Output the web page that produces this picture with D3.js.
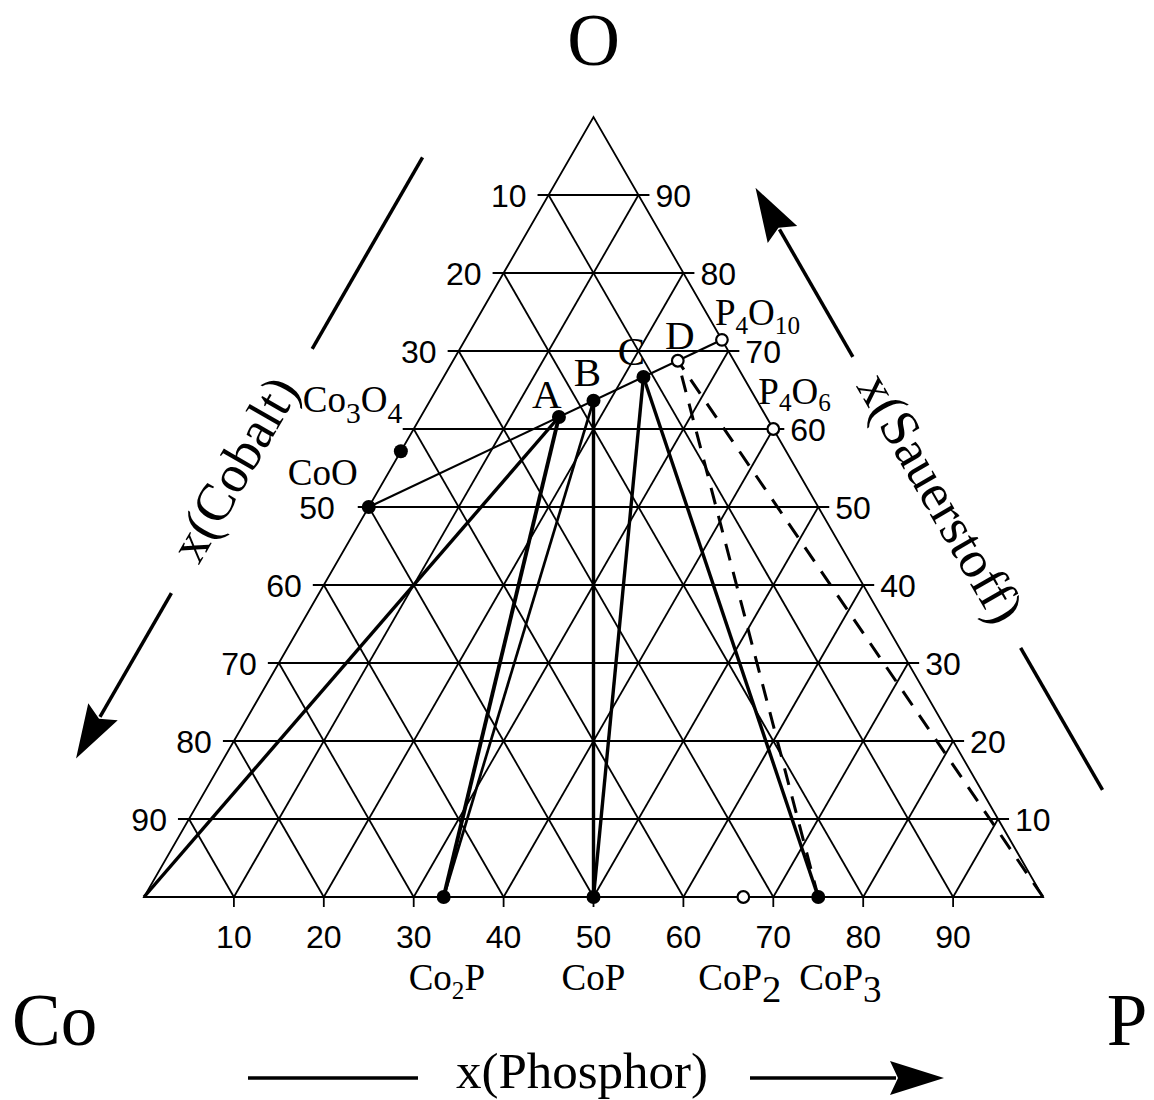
<!DOCTYPE html>
<html>
<head>
<meta charset="utf-8">
<script src="https://cdn.jsdelivr.net/npm/d3@7"></script>
<style>
  html, body { margin: 0; padding: 0; background: #fff; }
  svg { display: block; }
</style>
</head>
<body>
<svg id="chart" width="1154" height="1100"></svg>
<script>
// Ternary phase diagram Co – P – O (mole fractions in %)

// Grid / tick values
const gridTicks        = [10, 20, 30, 40, 50, 60, 70, 80, 90];
const leftTickValues   = [10, 20, 30, 50, 60, 70, 80, 90];      // x(Cobalt) along Co–O edge
const rightTickValues  = [10, 20, 30, 40, 50, 60, 70, 80, 90];  // x(Sauerstoff) along P–O edge
const bottomTickValues = [10, 20, 30, 40, 50, 60, 70, 80, 90];  // x(Phosphor) along Co–P edge

// Phases, given as atom counts Co : P : O
const phaseIds    = ["CoO", "Co3O4", "A", "B", "C", "D", "P4O10", "P4O6", "Co2P", "CoP", "CoP2", "CoP3"];
const phaseLabels = ["CoO", "Co{3}O{4}", "A", "B", "C", "D", "P{4}O{10}", "P{4}O{6}", "Co{2}P", "CoP", "CoP{2}", "CoP{3}"];
const atomsCo     = [1, 3, 3, 2, 1, 1,  0,  0, 2, 1, 1, 1];
const atomsP      = [0, 0, 2, 2, 2, 4,  4,  4, 1, 1, 2, 3];
const atomsO      = [1, 4, 8, 7, 6, 11, 10, 6, 0, 0, 0, 0];
const openMarker  = [false, false, false, false, false, true, true, true, false, false, true, false];

// Pure elements at the corners
const cornerIds = ["Co", "P", "O"];
const cornerP   = [0, 1, 0];
const cornerO   = [0, 0, 1];

// Connecting lines
const joinLine    = ["CoO", "P4O10"];   // CoO – P4O10 section through A, B, C, D
const tieLines    = [["Co", "A"], ["Co2P", "A"], ["Co2P", "B"], ["CoP", "B"], ["CoP", "C"], ["CoP3", "C"]];
const dashedLines = [["CoP3", "D"], ["P", "D"]];

// Axis titles
const axisTitles = ["x(Cobalt)", "x(Sauerstoff)", "x(Phosphor)"];

// ---------------------------------------------------------------
const svg = d3.select("#chart");
const SERIF = "'Liberation Serif', 'Times New Roman', serif";
const SANS  = "'Liberation Sans', Arial, sans-serif";

// Cartesian projection: horizontal = P + O/2, vertical = O
const x = d3.scaleLinear().domain([0, 1]).range([144, 1043]);
const y = d3.scaleLinear().domain([0, 1]).range([897, 117]);
const pt = (p, o) => [x(p + o / 2), y(o)];

const comp = new Map();
phaseIds.forEach((id, i) => {
  const n = atomsCo[i] + atomsP[i] + atomsO[i];
  comp.set(id, { id, p: atomsP[i] / n, o: atomsO[i] / n, open: openMarker[i], label: phaseLabels[i] });
});
cornerIds.forEach((id, i) => comp.set(id, { id, p: cornerP[i], o: cornerO[i] }));
const at = id => { const c = comp.get(id); return pt(c.p, c.o); };

// ---------------- grid ----------------
const grid = svg.append("g").attr("stroke", "#000").attr("stroke-width", 1.8).attr("fill", "none");
const ext = 11;
const gridSegs = [];
gridTicks.forEach(v => {
  const t = v / 100;
  const l = pt(0, t), r = pt(1 - t, t);
  gridSegs.push([[l[0] - ext, l[1]], [r[0] + ext, r[1]]]);   // constant O
  gridSegs.push([pt(t, 0), pt(t, 1 - t)]);                    // constant P
  gridSegs.push([pt(1 - t, 0), pt(0, 1 - t)]);                // constant Co
  gridSegs.push([[x(t), y(0)], [x(t), y(0) + 10]]);           // tick below base
});
grid.selectAll("line").data(gridSegs).join("line")
  .attr("x1", d => d[0][0]).attr("y1", d => d[0][1])
  .attr("x2", d => d[1][0]).attr("y2", d => d[1][1]);
grid.append("path")
  .attr("d", d3.line()([at("Co"), at("P"), at("O")]) + "Z");

// ---------------- tick labels ----------------
const ticks = svg.append("g").attr("font-family", SANS).attr("font-size", 32).attr("fill", "#000");
ticks.selectAll("text.b").data(bottomTickValues).join("text").attr("class", "b")
  .attr("x", v => x(v / 100)).attr("y", y(0) + 51)
  .attr("text-anchor", "middle").text(v => v);
ticks.selectAll("text.l").data(leftTickValues).join("text").attr("class", "l")
  .attr("x", v => pt(0, 1 - v / 100)[0] - (v === 50 ? 34 : 22))
  .attr("y", v => y(1 - v / 100) + 11.5)
  .attr("text-anchor", "end").text(v => v);
ticks.selectAll("text.r").data(rightTickValues).join("text").attr("class", "r")
  .attr("x", v => pt(1 - v / 100, v / 100)[0] + 17)
  .attr("y", v => y(v / 100) + 11.5)
  .attr("text-anchor", "start").text(v => v);

// ---------------- lines ----------------
const lines = svg.append("g").attr("stroke", "#000").attr("fill", "none").attr("stroke-linecap", "butt");
lines.append("line")
  .attr("x1", at(joinLine[0])[0]).attr("y1", at(joinLine[0])[1])
  .attr("x2", at(joinLine[1])[0]).attr("y2", at(joinLine[1])[1])
  .attr("stroke-width", 2.2);
const tieWidth = d => (d[0] === "Co2P" && d[1] === "B") ? 2.7 : (d[0] === "Co2P" ? 3.9 : 3.4);
lines.selectAll("line.tie").data(tieLines).join("line").attr("class", "tie")
  .attr("x1", d => at(d[0])[0]).attr("y1", d => at(d[0])[1])
  .attr("x2", d => at(d[1])[0]).attr("y2", d => at(d[1])[1])
  .attr("stroke-width", tieWidth);
lines.selectAll("line.dash").data(dashedLines).join("line").attr("class", "dash")
  .attr("x1", d => at(d[0])[0]).attr("y1", d => at(d[0])[1])
  .attr("x2", d => at(d[1])[0]).attr("y2", d => at(d[1])[1])
  .attr("stroke-width", 3).attr("stroke-dasharray", "17,12");

// ---------------- markers ----------------
const phases = phaseIds.map(id => comp.get(id));
svg.append("g").selectAll("circle").data(phases).join("circle")
  .attr("cx", d => pt(d.p, d.o)[0]).attr("cy", d => pt(d.p, d.o)[1])
  .attr("r", d => d.open ? 5.8 : 7)
  .attr("fill", d => d.open ? "#fff" : "#000")
  .attr("stroke", "#000").attr("stroke-width", d => d.open ? 2.2 : 0);

// ---------------- phase labels ----------------
const labelPlace = {
  A: [-12, -9, "middle"], B: [-6, -15, "middle"], C: [-12, -12, "middle"], D: [2, -12, "middle"],
  P4O10: [-7, -15, "start"], P4O6: [-15, -25, "start"],
  Co3O4: [-98, -39, "start"], CoO: [-81, -22, "start"],
  Co2P: [-35, 93, "start"], CoP: [-32, 93, "start"], CoP2: [-45, 93, "start"], CoP3: [-19, 93, "start"]
};
const subStyle = { Co3O4: [0.8, 11], CoP2: [1.05, 12], CoP3: [1.0, 12], P4O6: [0.68, 7] };
function parseFormula(s) {
  const parts = [];
  const re = /([^{]+)|\{([^}]*)\}/g;
  let m;
  while ((m = re.exec(s))) parts.push(m[1] ? { t: m[1], sub: false } : { t: m[2], sub: true });
  return parts;
}
const labG = svg.append("g").attr("font-family", SERIF).attr("fill", "#000");
phases.forEach(d => {
  const [px, py] = pt(d.p, d.o);
  const [dx, dy, anchor] = labelPlace[d.id];
  const single = d.label.length === 1;
  const fs = single ? 41 : 37;
  const [ss, sd] = subStyle[d.id] || [0.68, 9];
  const txt = labG.append("text")
    .attr("x", px + dx).attr("y", py + dy)
    .attr("text-anchor", anchor).attr("font-size", fs);
  let shift = 0;
  parseFormula(d.label).forEach(part => {
    const target = part.sub ? sd : 0;
    txt.append("tspan")
      .attr("dy", target - shift)
      .attr("font-size", part.sub ? fs * ss : fs)
      .text(part.t);
    shift = target;
  });
});

// ---------------- corner labels ----------------
const cornerOffset = { Co: [-132, 148, "start"], P: [84, 148, "middle"], O: [0, -52, "middle"] };
svg.append("g").attr("font-family", SERIF).attr("font-size", 73).attr("fill", "#000")
  .selectAll("text").data(cornerIds).join("text")
  .attr("x", id => at(id)[0] + cornerOffset[id][0])
  .attr("y", id => at(id)[1] + cornerOffset[id][1])
  .attr("text-anchor", id => cornerOffset[id][2])
  .text(id => id);

// ---------------- axis titles and arrows ----------------
// Edge frames: origin, unit direction, outward normal
function edgeFrame(from, to, sign) {
  const a = at(from), b = at(to);
  const len = Math.hypot(b[0] - a[0], b[1] - a[1]);
  const d = [(b[0] - a[0]) / len, (b[1] - a[1]) / len];
  const n = sign > 0 ? [d[1], -d[0]] : [-d[1], d[0]];
  return (u, v) => [a[0] + d[0] * u + n[0] * v, a[1] + d[1] * u + n[1] * v];
}
const frames = [
  { f: edgeFrame("Co", "O", 1),  off: 128, seg: [559, 780], arrow: [277, 86],  title: [416, 136], rot: -60 },
  { f: edgeFrame("P", "O", -1),  off: 105, seg: [63, 227],  arrow: [563, 758], title: [397, 111], rot: 60 },
  { f: edgeFrame("Co", "P", -1), off: 181, seg: [104, 274], arrow: [606, 800], title: [438, 174], rot: 0 }
];
const deco = svg.append("g");
const headLen = 54, headHalf = 17;
frames.forEach((fr, i) => {
  const s0 = fr.f(fr.seg[0], fr.off), s1 = fr.f(fr.seg[1], fr.off);
  deco.append("line").attr("x1", s0[0]).attr("y1", s0[1]).attr("x2", s1[0]).attr("y2", s1[1])
    .attr("stroke", "#000").attr("stroke-width", 3.5);
  const a0 = fr.f(fr.arrow[0], fr.off), tip = fr.f(fr.arrow[1], fr.off);
  const L = Math.hypot(tip[0] - a0[0], tip[1] - a0[1]);
  const u = [(tip[0] - a0[0]) / L, (tip[1] - a0[1]) / L], nrm = [-u[1], u[0]];
  const base = [tip[0] - u[0] * headLen, tip[1] - u[1] * headLen];
  const shaftEnd = [tip[0] - u[0] * (headLen - 6), tip[1] - u[1] * (headLen - 6)];
  deco.append("line").attr("x1", a0[0]).attr("y1", a0[1]).attr("x2", shaftEnd[0]).attr("y2", shaftEnd[1])
    .attr("stroke", "#000").attr("stroke-width", 3.5);
  const notch = [tip[0] - u[0] * (headLen - 8), tip[1] - u[1] * (headLen - 8)];
  deco.append("path")
    .attr("d", d3.line()([
      tip,
      [base[0] + nrm[0] * headHalf, base[1] + nrm[1] * headHalf],
      notch,
      [base[0] - nrm[0] * headHalf, base[1] - nrm[1] * headHalf]
    ]) + "Z")
    .attr("fill", "#000");
  const c = fr.f(fr.title[0], fr.title[1]);
  deco.append("text")
    .attr("transform", `translate(${c[0]},${c[1]}) rotate(${fr.rot})`)
    .attr("text-anchor", "middle").attr("dominant-baseline", "central")
    .attr("font-family", SERIF).attr("font-size", i === 2 ? 51 : 53)
    .text(axisTitles[i]);
});
</script>
</body>
</html>
